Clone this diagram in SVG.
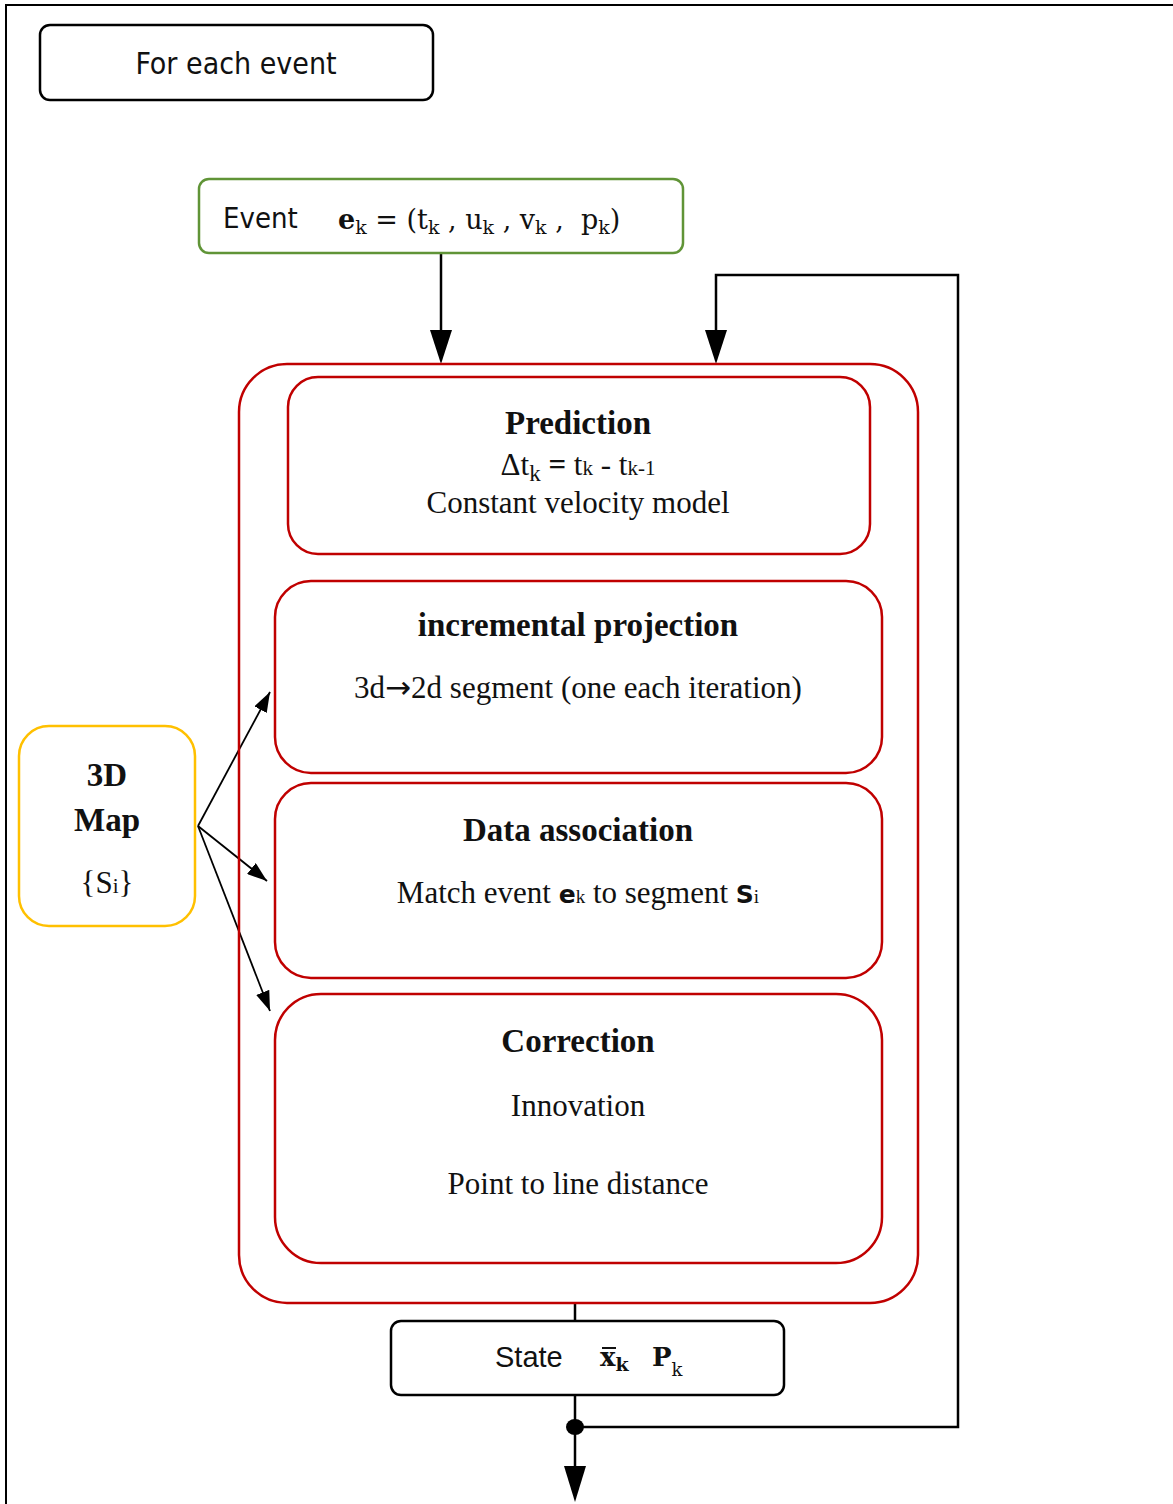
<svg xmlns="http://www.w3.org/2000/svg" width="1173" height="1504" viewBox="0 0 1173 1504">
  <style>
    .box { fill: #ffffff; stroke: #000000; stroke-width: 2.5; }
    .red { fill: none; stroke: #c00000; stroke-width: 2.5; }
    .wire { fill: none; stroke: #000000; stroke-width: 2.5; }
    .thin { fill: none; stroke: #000000; stroke-width: 1.8; }
    .sans { font-family: "DejaVu Sans Condensed", "DejaVu Sans", sans-serif; fill: #111111; }
    .serif { font-family: "Liberation Serif", "DejaVu Serif", serif; fill: #111111; }
    .math { font-family: "DejaVu Serif", "Liberation Serif", serif; fill: #111111; }
    .title { font-weight: bold; font-size: 33px; }
    .body { font-size: 31px; }
  </style>
  <defs>
    <marker id="smallArrow" markerUnits="userSpaceOnUse" markerWidth="20" markerHeight="14" refX="20" refY="7" orient="auto" viewBox="0 0 20 14">
      <path d="M0,0 L20,7 L0,14 Z" fill="#000000"/>
    </marker>
  </defs>

  <!-- frame -->
  <path d="M6,1504 L6,5 L1173,5" fill="none" stroke="#000000" stroke-width="2"/>

  <!-- connectors -->
  <g id="connectors">
    <path class="wire" d="M441,253 L441,330"/>
    <path d="M430,330 L452,330 L441,364 Z" fill="#000000"/>
    <path class="wire" d="M575,1427 L958,1427 L958,275 L716,275 L716,330"/>
    <path d="M705,330 L727,330 L716,364 Z" fill="#000000"/>
    <path class="wire" d="M575,1303 L575,1321"/>
    <path class="wire" d="M575,1395 L575,1466"/>
    <path d="M564,1466 L586,1466 L575,1502 Z" fill="#000000"/>
    <ellipse cx="575" cy="1427" rx="9" ry="8" fill="#000000"/>
    <path class="thin" d="M198,826 L270,692" marker-end="url(#smallArrow)"/>
    <path class="thin" d="M198,826 L267,881" marker-end="url(#smallArrow)"/>
    <path class="thin" d="M198,826 L270,1011" marker-end="url(#smallArrow)"/>
  </g>

  <!-- loop header -->
  <g id="for-each">
    <rect class="box" x="40" y="25" width="393" height="75" rx="10"/>
    <text class="sans" x="236" y="74" font-size="30" text-anchor="middle">For each event</text>
  </g>

  <!-- incoming event -->
  <g id="event">
    <rect x="199" y="179" width="484" height="74" rx="10" fill="#ffffff" stroke="#609437" stroke-width="2.5"/>
    <text class="sans" x="223" y="228" font-size="29">Event</text>
    <text class="math" x="338" y="229" font-size="27" xml:space="preserve"><tspan font-weight="bold">e</tspan><tspan font-size="19" dy="5">k</tspan><tspan dy="-5"> = (t</tspan><tspan font-size="19" dy="5">k</tspan><tspan dy="-5"> , u</tspan><tspan font-size="19" dy="5">k</tspan><tspan dy="-5"> , v</tspan><tspan font-size="19" dy="5">k</tspan><tspan dy="-5"> ,  p</tspan><tspan font-size="19" dy="5">k</tspan><tspan dy="-5">)</tspan></text>
  </g>

  <!-- filter container -->
  <g id="filter">
    <rect class="red" x="239" y="364" width="679" height="939" rx="48"/>
  </g>

  <g id="prediction">
    <rect class="red" x="288" y="377" width="582" height="177" rx="30"/>
    <text class="serif title" x="578" y="434" text-anchor="middle">Prediction</text>
    <text class="serif body" x="578" y="475" text-anchor="middle">Δt<tspan font-size="23" dy="6">k</tspan><tspan dy="-6" font-weight="bold"> = </tspan>t<tspan font-size="21">k</tspan> - t<tspan font-size="21">k-1</tspan></text>
    <text class="serif body" x="578" y="513" text-anchor="middle">Constant velocity model</text>
  </g>

  <g id="projection">
    <rect class="red" x="275" y="581" width="607" height="192" rx="36"/>
    <text class="serif title" x="578" y="636" text-anchor="middle">incremental projection</text>
    <text class="serif body" x="578" y="698" text-anchor="middle">3d<tspan font-family="DejaVu Sans, sans-serif" font-size="31">→</tspan>2d segment (one each iteration)</text>
  </g>

  <g id="association">
    <rect class="red" x="275" y="783" width="607" height="195" rx="36"/>
    <text class="serif title" x="578" y="841" text-anchor="middle">Data association</text>
    <text class="serif body" x="578" y="903" text-anchor="middle">Match event <tspan font-weight="bold" font-family="DejaVu Sans, sans-serif" font-size="25">e</tspan><tspan font-size="19">k</tspan> to segment <tspan font-weight="bold" font-family="DejaVu Sans, sans-serif" font-size="25">S</tspan><tspan font-size="19">i</tspan></text>
  </g>

  <g id="correction">
    <rect class="red" x="275" y="994" width="607" height="269" rx="46"/>
    <text class="serif title" x="578" y="1052" text-anchor="middle">Correction</text>
    <text class="serif body" x="578" y="1116" text-anchor="middle">Innovation</text>
    <text class="serif body" x="578" y="1194" text-anchor="middle">Point to line distance</text>
  </g>

  <!-- map source -->
  <g id="map">
    <rect x="19" y="726" width="176" height="200" rx="30" fill="#ffffff" stroke="#ffc000" stroke-width="2.5"/>
    <text class="serif title" x="107" y="786" text-anchor="middle">3D</text>
    <text class="serif title" x="107" y="831" text-anchor="middle">Map</text>
    <text class="serif body" x="107" y="893" text-anchor="middle">{S<tspan font-size="21">i</tspan>}</text>
  </g>

  <!-- output state -->
  <g id="state">
    <rect class="box" x="391" y="1321" width="393" height="74" rx="10"/>
    <text x="495" y="1367" font-family="Liberation Sans, Arial, sans-serif" font-size="29" fill="#111111">State</text>
    <text class="math" x="600" y="1366" font-size="26" font-weight="bold">x<tspan font-size="19" dy="5">k</tspan></text>
    <path d="M602,1348 L616,1348" stroke="#111111" stroke-width="2"/>
    <text class="math" x="652" y="1366" font-size="26" font-weight="bold">P<tspan font-size="18" font-weight="normal" dy="10">k</tspan></text>
  </g>
</svg>
